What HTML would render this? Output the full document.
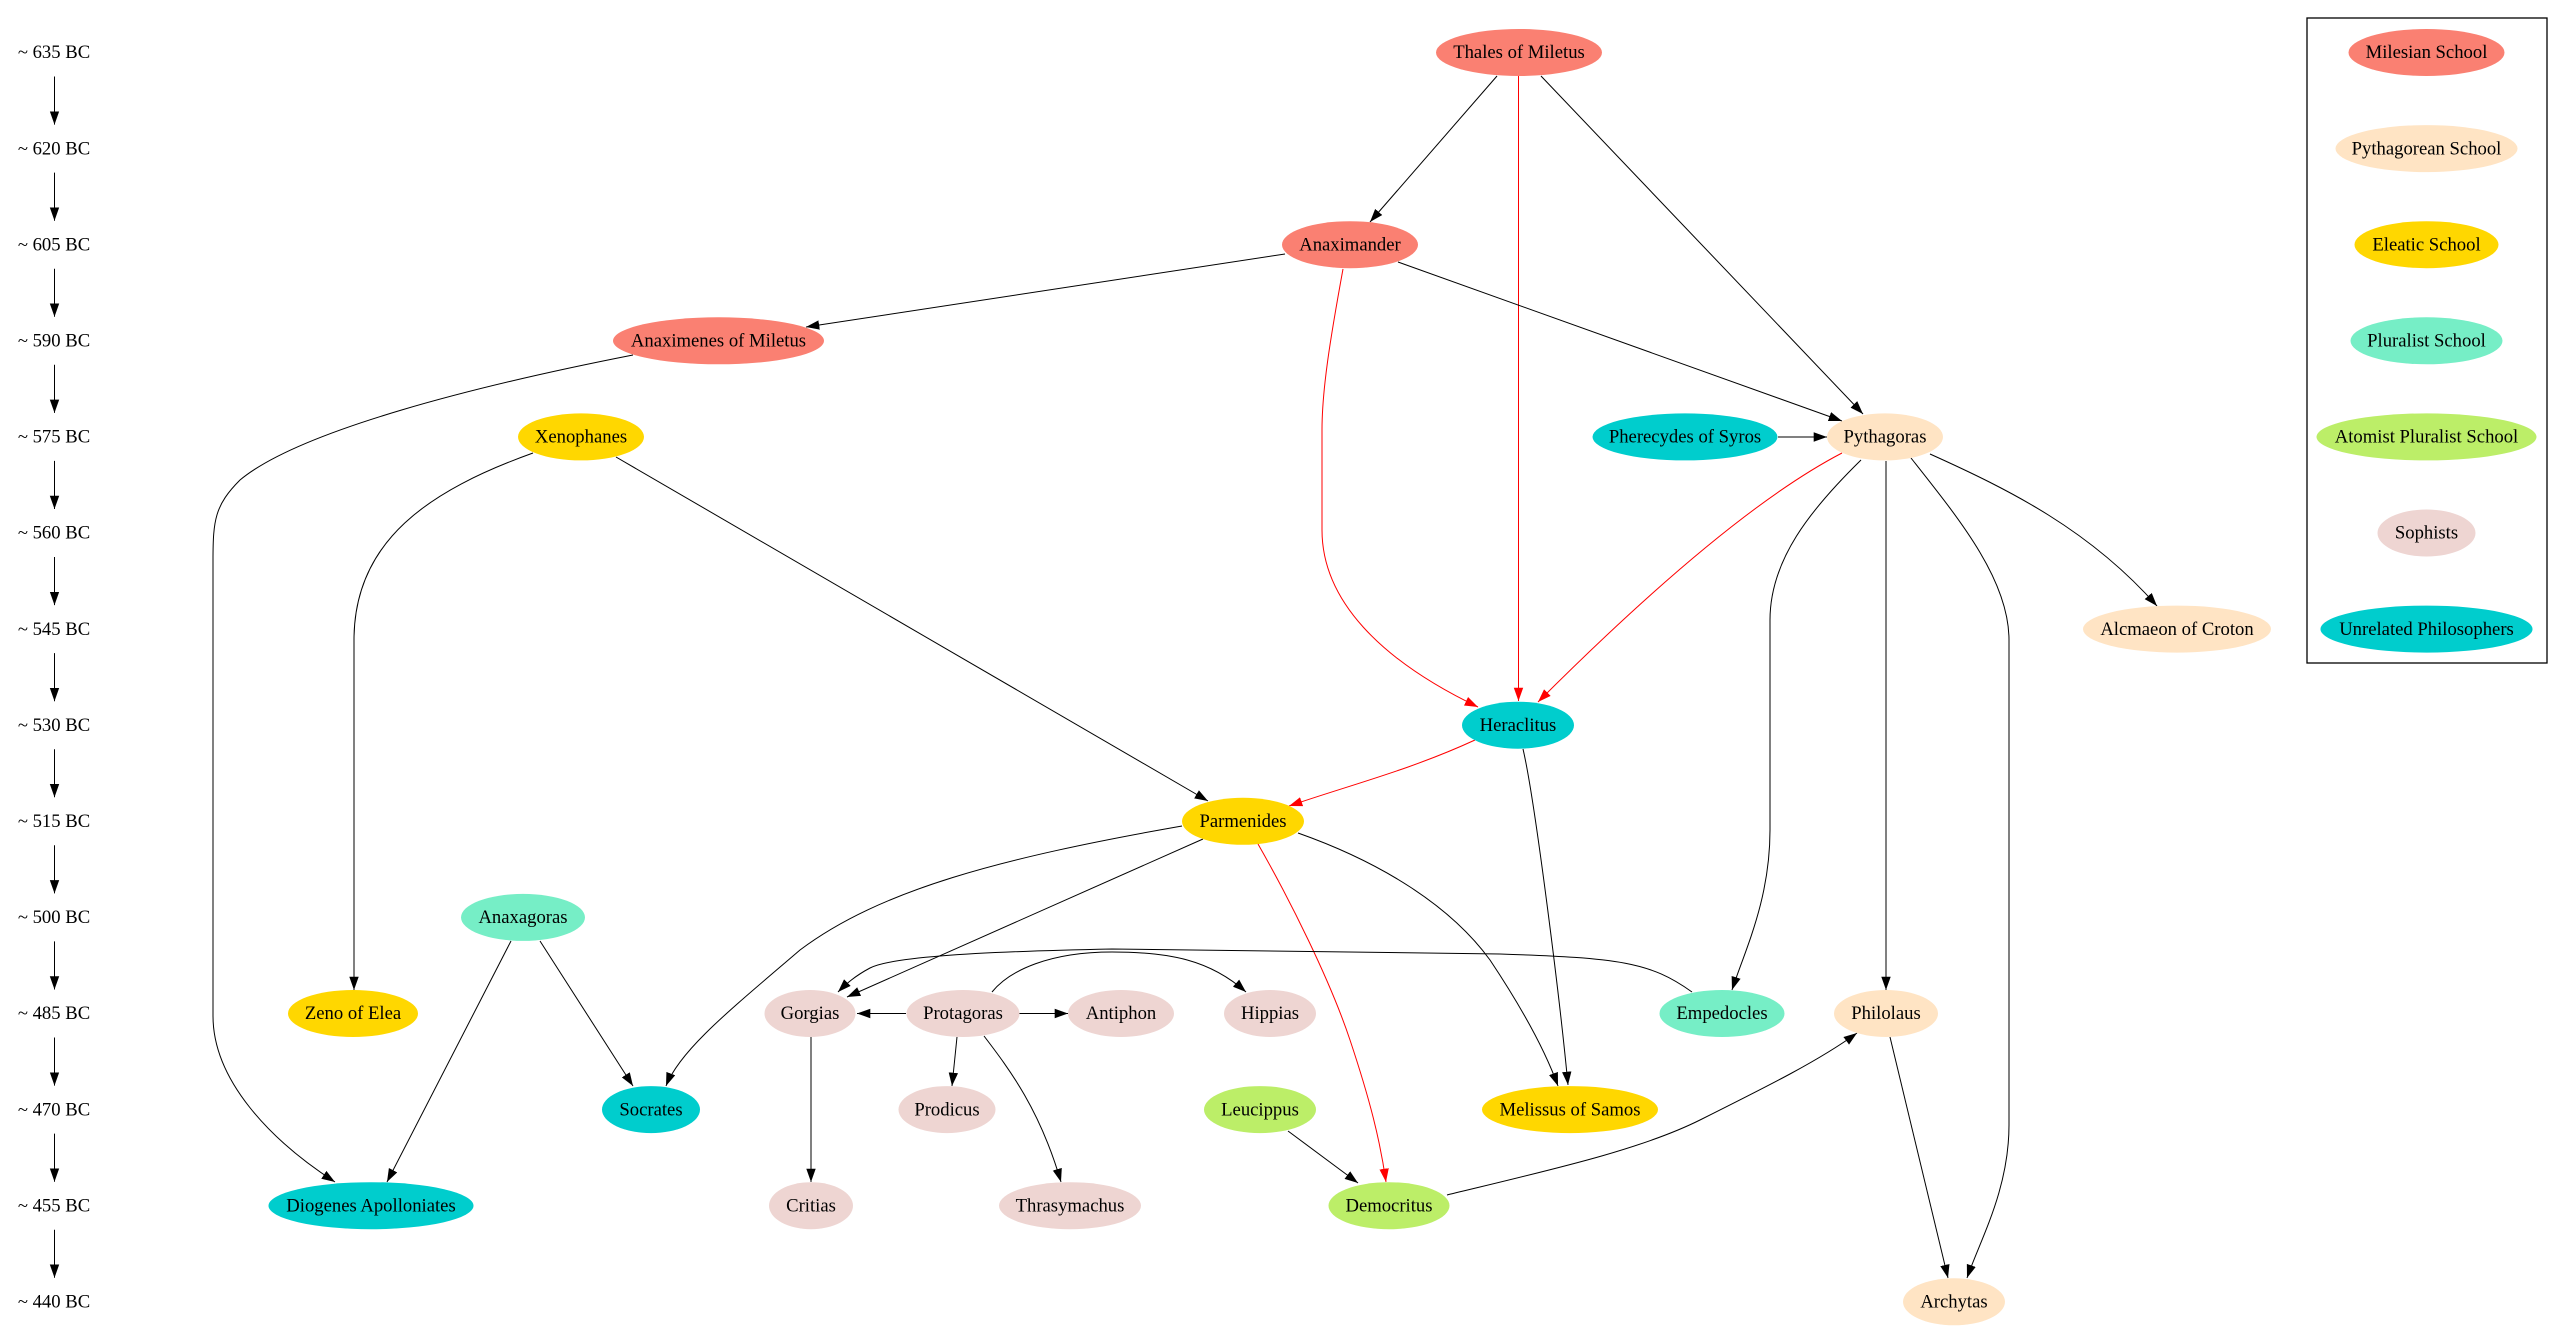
<!DOCTYPE html>
<html><head><meta charset="utf-8"><style>
html,body{margin:0;padding:0;background:#fff;}
svg{display:block;}
text{font-family:"Liberation Serif","Times New Roman",serif;font-size:18.67px;fill:#000;text-anchor:middle;}
.e{fill:none;stroke:#000;stroke-width:1;marker-end:url(#ab);}
.r{fill:none;stroke:#ff0000;stroke-width:1;marker-end:url(#ar);}
</style></head><body>
<svg width="2564" height="1332" viewBox="0 0 2564 1332" xmlns="http://www.w3.org/2000/svg">
<defs>
<marker id="ab" viewBox="0 -5 14 10" refX="13.3" refY="0" markerWidth="14" markerHeight="10" markerUnits="userSpaceOnUse" orient="auto"><path d="M0,-4.7 L13.3,0 L0,4.7 z" fill="#000"/></marker>
<marker id="ar" viewBox="0 -5 14 10" refX="13.3" refY="0" markerWidth="14" markerHeight="10" markerUnits="userSpaceOnUse" orient="auto"><path d="M0,-4.7 L13.3,0 L0,4.7 z" fill="#ff0000"/></marker>
</defs>
<rect width="2564" height="1332" fill="#fff"/>

<!-- timeline -->
<g>
<text x="54" y="58.2">~ 635 BC</text>
<text x="54" y="154.3">~ 620 BC</text>
<text x="54" y="250.4">~ 605 BC</text>
<text x="54" y="346.5">~ 590 BC</text>
<text x="54" y="442.6">~ 575 BC</text>
<text x="54" y="538.7">~ 560 BC</text>
<text x="54" y="634.8">~ 545 BC</text>
<text x="54" y="730.9">~ 530 BC</text>
<text x="54" y="827">~ 515 BC</text>
<text x="54" y="923.1">~ 500 BC</text>
<text x="54" y="1019.2">~ 485 BC</text>
<text x="54" y="1115.3">~ 470 BC</text>
<text x="54" y="1211.4">~ 455 BC</text>
<text x="54" y="1307.5">~ 440 BC</text>
<path class="e" d="M54.5,76.5 L54.5,124.6"/>
<path class="e" d="M54.5,172.6 L54.5,220.7"/>
<path class="e" d="M54.5,268.7 L54.5,316.8"/>
<path class="e" d="M54.5,364.8 L54.5,412.9"/>
<path class="e" d="M54.5,460.9 L54.5,509"/>
<path class="e" d="M54.5,557 L54.5,605.1"/>
<path class="e" d="M54.5,653.1 L54.5,701.2"/>
<path class="e" d="M54.5,749.2 L54.5,797.3"/>
<path class="e" d="M54.5,845.3 L54.5,893.4"/>
<path class="e" d="M54.5,941.4 L54.5,989.5"/>
<path class="e" d="M54.5,1037.5 L54.5,1085.6"/>
<path class="e" d="M54.5,1133.6 L54.5,1181.7"/>
<path class="e" d="M54.5,1229.7 L54.5,1277.8"/>
</g>

<!-- edges -->
<g>
<path class="e" d="M1497,76 L1370,222"/>
<path class="r" d="M1518.5,76 L1518.5,701"/>
<path class="e" d="M1541,76 L1863,414"/>
<path class="e" d="M1285,254 L806,327"/>
<path class="e" d="M1398,262 L1842,421"/>
<path class="r" d="M1343,269 C1330,340 1322,390 1322,430 L1322,530 C1322,600 1380,660 1478,707"/>
<path class="r" d="M1842,453 C1790,480 1700,540 1538,702"/>
<path class="e" d="M1778,437 L1827,437"/>
<path class="e" d="M1861,460 C1810,510 1770,560 1770,620 L1770,830 C1770,900 1745,950 1732,990"/>
<path class="e" d="M1886,461 L1886,990"/>
<path class="e" d="M1911,458 C1960,520 2009,580 2009,640 L2009,1125 C2009,1190 1980,1240 1967,1278"/>
<path class="e" d="M1930,454 C2010,490 2090,530 2157,606"/>
<path class="e" d="M533,453 C430,490 354,540 354,640 L354,990"/>
<path class="e" d="M616,457 L1208,801"/>
<path class="e" d="M633,355 C480,385 300,430 240,480 C215,505 213,520 213,560 L213,1016 C213,1080 270,1140 335,1182"/>
<path class="e" d="M540,941 L633,1086"/>
<path class="e" d="M511,941 L387,1182"/>
<path class="e" d="M1182,826 C1000,858 880,890 800,950 C730,1010 680,1050 666,1086"/>
<path class="e" d="M1203,839 L847,997"/>
<path class="r" d="M1258,844 C1290,900 1330,980 1350,1040 C1370,1100 1380,1140 1386,1182"/>
<path class="e" d="M1298,833 C1380,862 1450,905 1490,960 C1520,1005 1545,1050 1558,1086"/>
<path class="r" d="M1475,740 C1410,770 1350,785 1289,806"/>
<path class="e" d="M1523,749 C1535,800 1560,1000 1568,1085"/>
<path class="e" d="M1692,992 C1650,962 1620,958 1500,954 L1112,949 C960,952 890,958 870,968 C855,976 846,984 838,992"/>
<path class="e" d="M992,992 C1010,970 1050,952 1112,952 C1170,952 1210,960 1246,992"/>
<path class="e" d="M906,1013.5 L857,1013.5"/>
<path class="e" d="M1019,1013.5 L1068,1013.5"/>
<path class="e" d="M957,1037 L952,1086"/>
<path class="e" d="M984,1036 C1010,1070 1040,1110 1061,1182"/>
<path class="e" d="M811,1037 L811,1182"/>
<path class="e" d="M1288,1131 L1358,1183"/>
<path class="e" d="M1447,1195 C1550,1170 1640,1150 1700,1120 C1770,1085 1820,1060 1857,1033"/>
<path class="e" d="M1890,1037 L1948,1278"/>
</g>

<!-- nodes -->
<g>
<ellipse cx="1519" cy="52.5" rx="83" ry="23.5" fill="#fa8072"/><text x="1519" y="58.2">Thales of Miletus</text>
<ellipse cx="1350" cy="244.7" rx="68" ry="23.5" fill="#fa8072"/><text x="1350" y="250.4">Anaximander</text>
<ellipse cx="718.5" cy="340.8" rx="105.5" ry="23.5" fill="#fa8072"/><text x="718.5" y="346.5">Anaximenes of Miletus</text>
<ellipse cx="1885" cy="436.9" rx="58" ry="23.5" fill="#ffe4c4"/><text x="1885" y="442.6">Pythagoras</text>
<ellipse cx="1685" cy="436.9" rx="92.5" ry="23.5" fill="#00cdcd"/><text x="1685" y="442.6">Pherecydes of Syros</text>
<ellipse cx="581" cy="436.9" rx="63" ry="23.5" fill="#ffd700"/><text x="581" y="442.6">Xenophanes</text>
<ellipse cx="2177" cy="629.1" rx="94" ry="23.5" fill="#ffe4c4"/><text x="2177" y="634.8">Alcmaeon of Croton</text>
<ellipse cx="1518" cy="725.2" rx="56" ry="23.5" fill="#00cdcd"/><text x="1518" y="730.9">Heraclitus</text>
<ellipse cx="1243" cy="821.3" rx="61" ry="23.5" fill="#ffd700"/><text x="1243" y="827">Parmenides</text>
<ellipse cx="523" cy="917.4" rx="62" ry="23.5" fill="#76eec6"/><text x="523" y="923.1">Anaxagoras</text>
<ellipse cx="353" cy="1013.5" rx="65" ry="23.5" fill="#ffd700"/><text x="353" y="1019.2">Zeno of Elea</text>
<ellipse cx="810" cy="1013.5" rx="45.5" ry="23.5" fill="#eed5d2"/><text x="810" y="1019.2">Gorgias</text>
<ellipse cx="963" cy="1013.5" rx="56.5" ry="23.5" fill="#eed5d2"/><text x="963" y="1019.2">Protagoras</text>
<ellipse cx="1121" cy="1013.5" rx="53" ry="23.5" fill="#eed5d2"/><text x="1121" y="1019.2">Antiphon</text>
<ellipse cx="1270" cy="1013.5" rx="46" ry="23.5" fill="#eed5d2"/><text x="1270" y="1019.2">Hippias</text>
<ellipse cx="1722" cy="1013.5" rx="62.5" ry="23.5" fill="#76eec6"/><text x="1722" y="1019.2">Empedocles</text>
<ellipse cx="1886" cy="1013.5" rx="52" ry="23.5" fill="#ffe4c4"/><text x="1886" y="1019.2">Philolaus</text>
<ellipse cx="651" cy="1109.6" rx="49" ry="23.5" fill="#00cdcd"/><text x="651" y="1115.3">Socrates</text>
<ellipse cx="947" cy="1109.6" rx="48.5" ry="23.5" fill="#eed5d2"/><text x="947" y="1115.3">Prodicus</text>
<ellipse cx="1260" cy="1109.6" rx="56" ry="23.5" fill="#bcee68"/><text x="1260" y="1115.3">Leucippus</text>
<ellipse cx="1570" cy="1109.6" rx="88" ry="23.5" fill="#ffd700"/><text x="1570" y="1115.3">Melissus of Samos</text>
<ellipse cx="371" cy="1205.7" rx="102.5" ry="23.5" fill="#00cdcd"/><text x="371" y="1211.4">Diogenes Apolloniates</text>
<ellipse cx="811" cy="1205.7" rx="42" ry="23.5" fill="#eed5d2"/><text x="811" y="1211.4">Critias</text>
<ellipse cx="1070" cy="1205.7" rx="71" ry="23.5" fill="#eed5d2"/><text x="1070" y="1211.4">Thrasymachus</text>
<ellipse cx="1389" cy="1205.7" rx="60.5" ry="23.5" fill="#bcee68"/><text x="1389" y="1211.4">Democritus</text>
<ellipse cx="1954" cy="1301.8" rx="51" ry="23.5" fill="#ffe4c4"/><text x="1954" y="1307.5">Archytas</text>
</g>

<!-- legend -->
<g>
<rect x="2307" y="18" width="240" height="645" fill="none" stroke="#000" stroke-width="1.3"/>
<ellipse cx="2426.5" cy="52.5" rx="78" ry="23.5" fill="#fa8072"/><text x="2426.5" y="58.2">Milesian School</text>
<ellipse cx="2426.5" cy="148.6" rx="91" ry="23.5" fill="#ffe4c4"/><text x="2426.5" y="154.3">Pythagorean School</text>
<ellipse cx="2426.5" cy="244.7" rx="72" ry="23.5" fill="#ffd700"/><text x="2426.5" y="250.4">Eleatic School</text>
<ellipse cx="2426.5" cy="340.8" rx="76" ry="23.5" fill="#76eec6"/><text x="2426.5" y="346.5">Pluralist School</text>
<ellipse cx="2426.5" cy="436.9" rx="110" ry="23.5" fill="#bcee68"/><text x="2426.5" y="442.6">Atomist Pluralist School</text>
<ellipse cx="2426.5" cy="533" rx="49" ry="23.5" fill="#eed5d2"/><text x="2426.5" y="538.7">Sophists</text>
<ellipse cx="2426.5" cy="629.1" rx="106" ry="23.5" fill="#00cdcd"/><text x="2426.5" y="634.8">Unrelated Philosophers</text>
</g>
</svg>
</body></html>
